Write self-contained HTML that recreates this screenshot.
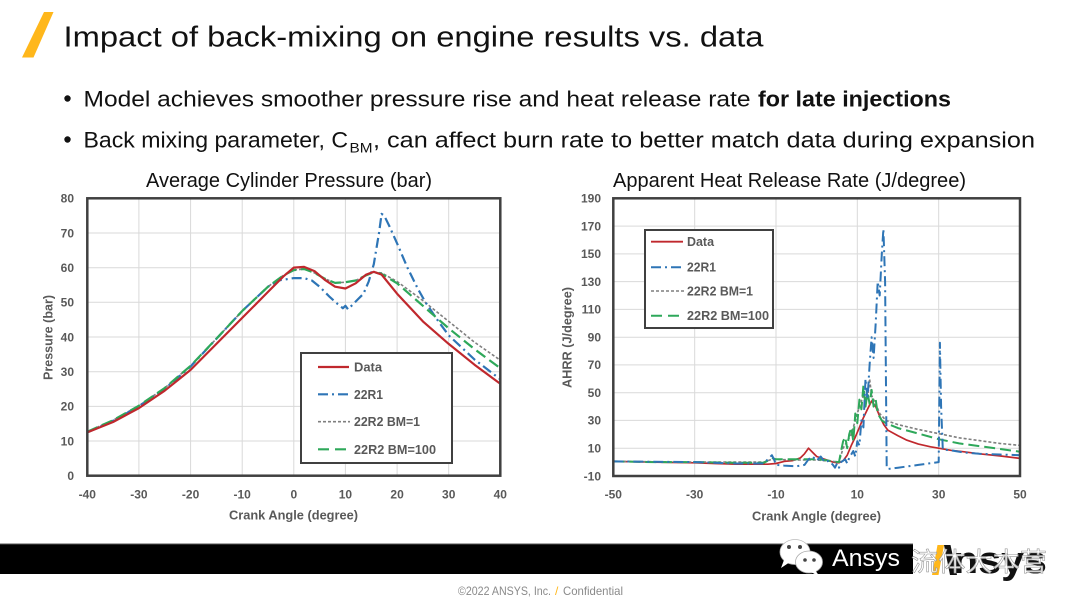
<!DOCTYPE html>
<html>
<head>
<meta charset="utf-8">
<style>
  html,body{margin:0;padding:0;background:#fff;}
  svg{display:block;}
  text{font-family:"Liberation Sans",sans-serif;}
  .tk{font-size:12px;font-weight:bold;fill:#595959;}
  .lg{font-size:12.5px;font-weight:bold;fill:#595959;}
  .ax{font-size:13px;font-weight:bold;fill:#595959;}
</style>
</head>
<body>
<svg width="1080" height="608" viewBox="0 0 1080 608" xmlns="http://www.w3.org/2000/svg">
  <rect x="0" y="0" width="1080" height="608" fill="#fff"/>

  <!-- Header -->
  <polygon points="44,12 53.5,12 33.5,57.5 22,57.5" fill="#FFB71B"/>
  <text x="63.5" y="46.5" font-size="29" fill="#111" textLength="700" lengthAdjust="spacingAndGlyphs">Impact of back-mixing on engine results vs. data</text>

  <!-- Bullets -->
  <circle cx="67.5" cy="98.5" r="3.2" fill="#111"/>
  <text x="83.5" y="106.7" font-size="22" fill="#111" textLength="667" lengthAdjust="spacingAndGlyphs">Model achieves smoother pressure rise and heat release rate</text>
  <text x="758" y="106.7" font-size="22" font-weight="bold" fill="#111" textLength="193" lengthAdjust="spacingAndGlyphs">for late injections</text>

  <circle cx="67.5" cy="139.5" r="3.2" fill="#111"/>
  <text x="83.5" y="147.3" font-size="22" fill="#111" textLength="264.5" lengthAdjust="spacingAndGlyphs">Back mixing parameter, C</text>
  <text x="349.5" y="152.5" font-size="14" fill="#111" textLength="23" lengthAdjust="spacingAndGlyphs">BM</text>
  <text x="373" y="147.3" font-size="22" fill="#111" textLength="662" lengthAdjust="spacingAndGlyphs">, can affect burn rate to better match data during expansion</text>

  <!-- Chart titles -->
  <text x="146" y="187" font-size="20" fill="#111" textLength="286" lengthAdjust="spacingAndGlyphs">Average Cylinder Pressure (bar)</text>
  <text x="613" y="187" font-size="20" fill="#111" textLength="353" lengthAdjust="spacingAndGlyphs">Apparent Heat Release Rate (J/degree)</text>

  <!-- ============ LEFT CHART ============ -->
  <g stroke="#d9d9d9" stroke-width="1">
    <line x1="138.9" y1="198.3" x2="138.9" y2="475.7"/>
    <line x1="190.6" y1="198.3" x2="190.6" y2="475.7"/>
    <line x1="242.2" y1="198.3" x2="242.2" y2="475.7"/>
    <line x1="293.8" y1="198.3" x2="293.8" y2="475.7"/>
    <line x1="345.4" y1="198.3" x2="345.4" y2="475.7"/>
    <line x1="397.1" y1="198.3" x2="397.1" y2="475.7"/>
    <line x1="448.7" y1="198.3" x2="448.7" y2="475.7"/>
    <line x1="87.3" y1="441.0" x2="500.3" y2="441.0"/>
    <line x1="87.3" y1="406.4" x2="500.3" y2="406.4"/>
    <line x1="87.3" y1="371.7" x2="500.3" y2="371.7"/>
    <line x1="87.3" y1="337.0" x2="500.3" y2="337.0"/>
    <line x1="87.3" y1="302.3" x2="500.3" y2="302.3"/>
    <line x1="87.3" y1="267.7" x2="500.3" y2="267.7"/>
    <line x1="87.3" y1="233.0" x2="500.3" y2="233.0"/>
  </g>

  <g fill="none" stroke-linejoin="round" stroke-linecap="butt">
    <!-- 22R2 BM=1 -->
    <polyline stroke="#7f7f7f" stroke-width="1.6" stroke-dasharray="3,2"
      points="87.3,431.7 113.1,420.2 138.9,405.7 164.7,388.0 190.6,365.8 216.4,338.7 242.2,311.0 268.0,286.7 283.5,275.3 293.8,270.1 304.1,269.0 314.5,272.9 324.8,278.7 335.1,282.9 345.4,282.2 355.7,280.5 366.1,275.3 373.8,272.2 381.6,272.9 397.1,281.5 422.9,300.6 448.7,321.4 474.5,342.2 500.3,360.2"/>
    <!-- 22R1 -->
    <polyline stroke="#2E75B6" stroke-width="2.2" stroke-dasharray="10,4,2,4"
      points="87.3,432.4 113.1,420.9 138.9,406.3 164.7,389.0 190.6,366.5 216.4,338.7 242.2,311.0 268.0,286.7 278.3,280.5 293.8,278.1 304.1,278.1 311.9,280.5 319.6,286.7 329.9,297.1 337.7,304.1 342.9,308.2 345.4,305.8 348.0,309.3 353.2,304.1 358.3,298.9 363.5,293.7 368.7,281.5 373.8,264.2 379.0,233.0 381.6,213.9 384.2,215.6 389.3,226.0 397.1,243.4 407.4,267.6 417.7,288.5 425.5,302.3 438.4,321.4 448.7,335.3 474.5,359.5 500.3,379.3"/>
    <!-- 22R2 BM=100 -->
    <polyline stroke="#2EA85A" stroke-width="2.2" stroke-dasharray="11,5"
      points="87.3,431.7 113.1,420.2 138.9,405.7 164.7,388.0 190.6,365.8 216.4,338.7 242.2,311.0 268.0,286.7 283.5,275.3 293.8,270.1 304.1,269.0 314.5,272.9 324.8,278.7 335.1,282.9 345.4,282.2 355.7,280.5 366.1,275.3 373.8,272.2 381.6,273.9 397.1,283.3 422.9,305.8 448.7,328.3 474.5,349.1 500.3,368.2"/>
    <!-- Data -->
    <polyline stroke="#C0282D" stroke-width="2.2"
      points="87.3,432.4 113.1,422.0 138.9,408.1 164.7,390.7 190.6,369.9 216.4,343.9 242.2,317.9 268.0,291.9 283.5,276.3 293.8,267.6 304.1,266.9 314.5,271.1 324.8,279.8 335.1,286.7 345.4,288.5 355.7,283.3 366.1,274.6 373.8,271.8 381.6,274.6 397.1,293.7 422.9,321.4 448.7,343.9 474.5,364.7 500.3,383.8"/>
  </g>

  <rect x="87.3" y="198.3" width="413" height="277.4" fill="none" stroke="#404040" stroke-width="2.5"/>

  <!-- Left legend -->
  <rect x="301" y="353" width="151" height="110" fill="#fff" stroke="#404040" stroke-width="2"/>
  <line x1="318" y1="367" x2="349" y2="367" stroke="#C0282D" stroke-width="2.2"/>
  <line x1="318" y1="394.3" x2="349" y2="394.3" stroke="#2E75B6" stroke-width="2.2" stroke-dasharray="10,4,2,4"/>
  <line x1="318" y1="421.7" x2="350" y2="421.7" stroke="#7f7f7f" stroke-width="1.6" stroke-dasharray="3,2"/>
  <line x1="318" y1="449.3" x2="350" y2="449.3" stroke="#2EA85A" stroke-width="2.2" stroke-dasharray="11,6"/>
  <text class="lg" x="354" y="371.5" textLength="28" lengthAdjust="spacingAndGlyphs">Data</text>
  <text class="lg" x="354" y="398.8" textLength="29" lengthAdjust="spacingAndGlyphs">22R1</text>
  <text class="lg" x="354" y="426.2" textLength="66" lengthAdjust="spacingAndGlyphs">22R2 BM=1</text>
  <text class="lg" x="354" y="453.8" textLength="82" lengthAdjust="spacingAndGlyphs">22R2 BM=100</text>

  <!-- Left ticks -->
  <g class="tk" text-anchor="end">
    <text x="74" y="480.0">0</text>
    <text x="74" y="445.3">10</text>
    <text x="74" y="410.7">20</text>
    <text x="74" y="376.0">30</text>
    <text x="74" y="341.3">40</text>
    <text x="74" y="306.6">50</text>
    <text x="74" y="272.0">60</text>
    <text x="74" y="237.3">70</text>
    <text x="74" y="202.6">80</text>
  </g>
  <g class="tk" text-anchor="middle">
    <text x="87.3" y="498.6">-40</text>
    <text x="138.9" y="498.6">-30</text>
    <text x="190.6" y="498.6">-20</text>
    <text x="242.2" y="498.6">-10</text>
    <text x="293.8" y="498.6">0</text>
    <text x="345.4" y="498.6">10</text>
    <text x="397.1" y="498.6">20</text>
    <text x="448.7" y="498.6">30</text>
    <text x="500.3" y="498.6">40</text>
  </g>
  <text class="ax" x="229" y="519.5" textLength="129" lengthAdjust="spacingAndGlyphs">Crank Angle (degree)</text>
  <text class="ax" transform="translate(52.5,337.5) rotate(-90)" text-anchor="middle" textLength="85" lengthAdjust="spacingAndGlyphs">Pressure (bar)</text>

  <!-- ============ RIGHT CHART ============ -->
  <g stroke="#d9d9d9" stroke-width="1">
    <line x1="694.7" y1="198.3" x2="694.7" y2="476"/>
    <line x1="776.0" y1="198.3" x2="776.0" y2="476"/>
    <line x1="857.3" y1="198.3" x2="857.3" y2="476"/>
    <line x1="938.7" y1="198.3" x2="938.7" y2="476"/>
    <line x1="613.3" y1="448.2" x2="1020" y2="448.2"/>
    <line x1="613.3" y1="420.4" x2="1020" y2="420.4"/>
    <line x1="613.3" y1="392.7" x2="1020" y2="392.7"/>
    <line x1="613.3" y1="364.9" x2="1020" y2="364.9"/>
    <line x1="613.3" y1="337.2" x2="1020" y2="337.2"/>
    <line x1="613.3" y1="309.4" x2="1020" y2="309.4"/>
    <line x1="613.3" y1="281.6" x2="1020" y2="281.6"/>
    <line x1="613.3" y1="253.9" x2="1020" y2="253.9"/>
    <line x1="613.3" y1="226.1" x2="1020" y2="226.1"/>
  </g>

  <g fill="none" stroke-linejoin="round">
    <!-- Data -->
    <polyline stroke="#C0282D" stroke-width="1.7"
      points="613.3,461.4 654.0,462.1 694.7,462.8 715.0,463.5 735.4,464.2 767.8,464.2 776.0,463.5 784.1,461.4 792.3,460.7 800.4,457.9 804.5,453.8 808.5,448.2 812.6,452.4 816.7,456.5 824.8,459.3 833.0,462.1 839.0,462.8 843.1,460.7 847.2,455.2 851.3,445.4 855.3,437.1 859.4,427.4 863.4,417.7 867.5,409.3 871.6,401.0 875.7,406.6 879.7,416.3 883.8,424.6 887.9,430.2 898.0,435.7 906.2,439.9 918.4,444.1 930.6,446.8 938.7,448.2 950.9,450.3 963.1,451.7 979.4,453.8 999.7,455.9 1020.0,458.4"/>
    <!-- 22R2 BM=1 -->
    <polyline stroke="#7f7f7f" stroke-width="1.6" stroke-dasharray="3,2"
      points="613.3,461.4 694.7,462.1 763.7,462.1 771.9,459.3 796.3,460.0 816.7,460.0 833.0,461.4 839.0,462.1 843.1,448.2 847.2,441.3 851.3,434.3 855.3,420.4 859.4,406.6 863.4,395.5 867.5,399.6 869.6,378.8 871.6,395.5 875.7,403.8 879.7,413.5 885.9,420.4 898.0,424.6 918.4,429.5 938.7,433.6 959.1,437.8 979.4,440.6 999.7,443.4 1020.0,445.4"/>
    <!-- 22R2 BM=100 -->
    <polyline stroke="#2EA85A" stroke-width="2" stroke-dasharray="11,5"
      points="613.3,461.4 654.0,462.1 694.7,462.1 735.4,462.8 763.7,462.8 767.8,460.7 771.9,457.9 776.0,459.3 784.1,459.3 796.3,459.3 808.5,459.3 816.7,459.3 824.8,460.0 833.0,461.4 839.0,462.1 841.1,451.0 843.1,441.3 845.2,437.1 847.2,448.2 849.2,434.3 851.3,427.4 853.3,441.3 855.3,413.5 857.3,423.2 859.4,399.6 861.4,409.3 863.4,385.7 865.5,406.6 867.5,392.7 869.6,403.8 871.6,389.9 873.6,406.6 875.7,399.6 877.7,413.5 881.8,420.4 885.9,423.2 898.0,428.1 918.4,433.6 938.7,439.2 959.1,443.4 979.4,446.1 999.7,448.9 1020.0,451.7"/>
    <!-- 22R1 -->
    <polyline stroke="#2E75B6" stroke-width="2" stroke-dasharray="10,4,2,4"
      points="613.3,461.4 694.7,462.1 735.4,463.5 763.7,463.5 767.8,459.3 771.9,455.2 774,459.3 776.0,464.9 784.1,465.6 796.3,466.3 804.5,464.9 808.5,459.3 812.6,456.5 816.7,460.7 820.7,456.5 824.8,462.1 828.9,460.7 833.0,464.9 835,467.7 837.0,463.5 839.0,467.7 841.1,462.1 845.2,459.3 847.2,463.5 849.2,457.9 853.3,451.0 855.3,456.5 857.3,441.3 859.4,445.4 861.4,420.4 863.4,427.4 865.5,378.8 867.5,399.6 869.6,364.9 871.6,337.2 873.6,358.0 875.7,323.3 877.7,281.6 879.7,295.5 881.8,253.9 883.4,228.9 885.1,281.6 886.7,467.7 887.9,469.0 898.0,467.7 918.4,464.9 938.7,462.1 939.9,342.7 941.1,406.6 942.8,449.6 950.9,450.3 963.1,452.4 979.4,453.8 999.7,454.5 1020.0,455.2"/>
  </g>

  <rect x="613.3" y="198.3" width="406.7" height="277.7" fill="none" stroke="#404040" stroke-width="2.5"/>

  <!-- Right legend -->
  <rect x="645" y="230" width="128" height="98" fill="#fff" stroke="#404040" stroke-width="2"/>
  <line x1="651" y1="241.7" x2="683" y2="241.7" stroke="#C0282D" stroke-width="1.8"/>
  <line x1="651" y1="267.3" x2="683" y2="267.3" stroke="#2E75B6" stroke-width="2" stroke-dasharray="10,4,2,4"/>
  <line x1="651" y1="291" x2="684" y2="291" stroke="#7f7f7f" stroke-width="1.6" stroke-dasharray="3,2"/>
  <line x1="651" y1="315.7" x2="684" y2="315.7" stroke="#2EA85A" stroke-width="2" stroke-dasharray="11,6"/>
  <text class="lg" x="687" y="246" textLength="27" lengthAdjust="spacingAndGlyphs">Data</text>
  <text class="lg" x="687" y="271.6" textLength="29" lengthAdjust="spacingAndGlyphs">22R1</text>
  <text class="lg" x="687" y="295.3" textLength="66" lengthAdjust="spacingAndGlyphs">22R2 BM=1</text>
  <text class="lg" x="687" y="320" textLength="82" lengthAdjust="spacingAndGlyphs">22R2 BM=100</text>

  <!-- Right ticks -->
  <g class="tk" text-anchor="end">
    <text x="601" y="480.3">-10</text>
    <text x="601" y="452.5">10</text>
    <text x="601" y="424.7">30</text>
    <text x="601" y="397.0">50</text>
    <text x="601" y="369.2">70</text>
    <text x="601" y="341.5">90</text>
    <text x="601" y="313.7">110</text>
    <text x="601" y="285.9">130</text>
    <text x="601" y="258.2">150</text>
    <text x="601" y="230.4">170</text>
    <text x="601" y="202.6">190</text>
  </g>
  <g class="tk" text-anchor="middle">
    <text x="613.3" y="498.6">-50</text>
    <text x="694.7" y="498.6">-30</text>
    <text x="776.0" y="498.6">-10</text>
    <text x="857.3" y="498.6">10</text>
    <text x="938.7" y="498.6">30</text>
    <text x="1020" y="498.6">50</text>
  </g>
  <text class="ax" x="752" y="520.5" textLength="129" lengthAdjust="spacingAndGlyphs">Crank Angle (degree)</text>
  <text class="ax" transform="translate(571.5,337.5) rotate(-90)" text-anchor="middle" textLength="101" lengthAdjust="spacingAndGlyphs">AHRR (J/degree)</text>

  <!-- ============ FOOTER ============ -->
  <rect x="0" y="544" width="913" height="30" fill="#000"/>
  <line x1="0" y1="544" x2="913" y2="544" stroke="#555" stroke-width="1"/>

  <!-- Ansys logo -->
  <polygon points="937.5,545 944,545 938.5,575 932,575" fill="#FFB71B"/>
  <polygon points="944,545 950.5,545 957,575 950,575" fill="#111"/>
  <text x="953" y="573" font-size="38" font-weight="bold" fill="#111" textLength="94" lengthAdjust="spacingAndGlyphs">nsys</text>

  <!-- WeChat icon -->
  <ellipse cx="795" cy="552" rx="15" ry="12.5" fill="#fff" stroke="#bbb" stroke-width="0.8"/>
  <polygon points="784,560 781,568 790,562" fill="#fff"/>
  <circle cx="789" cy="547" r="2" fill="#444"/>
  <circle cx="800" cy="547" r="2" fill="#444"/>
  <ellipse cx="809" cy="562" rx="13.5" ry="11" fill="#fff" stroke="#aaa" stroke-width="0.8"/>
  <polygon points="815,570 820,577 811,572" fill="#fff"/>
  <circle cx="805" cy="560" r="1.8" fill="#444"/>
  <circle cx="814" cy="560" r="1.8" fill="#444"/>

  <text x="832" y="566" font-size="24" fill="#fff" textLength="68" lengthAdjust="spacingAndGlyphs">Ansys</text>
  <text x="911" y="571" font-size="26" fill="#fff" fill-opacity="0.85" stroke="#9a9a9a" stroke-width="0.6" textLength="136" lengthAdjust="spacingAndGlyphs" style="font-family:'Liberation Sans','Noto Sans CJK SC',sans-serif;">流体大本营</text>

  <!-- Copyright -->
  <text x="458" y="595" font-size="12" fill="#8a8a8a" textLength="93" lengthAdjust="spacingAndGlyphs">©2022 ANSYS, Inc.</text>
  <text x="555" y="595" font-size="12" fill="#FFB71B">/</text>
  <text x="563" y="595" font-size="12" fill="#8a8a8a" textLength="60" lengthAdjust="spacingAndGlyphs">Confidential</text>
</svg>
</body>
</html>
